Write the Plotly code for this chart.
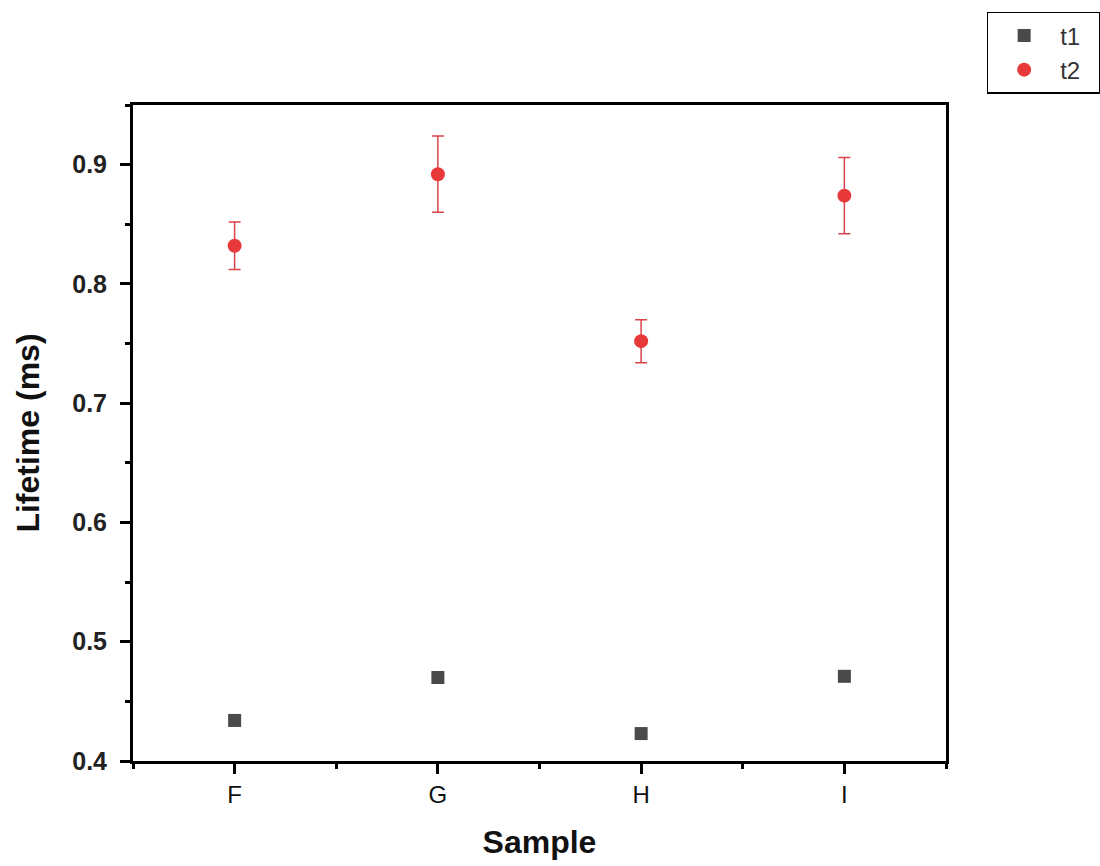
import plotly.graph_objects as go

samples = ["F", "G", "H", "I"]
t1 = [0.434, 0.470, 0.423, 0.471]
t2 = [0.832, 0.892, 0.752, 0.874]
t2_err = [0.020, 0.032, 0.018, 0.032]
y_ticks = [0.4, 0.5, 0.6, 0.7, 0.8, 0.9]

xpos = list(range(len(samples)))

fig = go.Figure()
fig.add_trace(go.Scatter(
    x=xpos, y=t1, mode="markers", name="t1\u00a0\u00a0",
    marker=dict(symbol="square", size=13, color="#4a4a4a"),
))
fig.add_trace(go.Scatter(
    x=xpos, y=t2, mode="markers", name="t2\u00a0\u00a0",
    marker=dict(symbol="circle", size=14, color="#e8393a"),
    error_y=dict(type="data", array=t2_err, visible=True, color="#d9434a", thickness=1.5, width=6),
))

axis_common = dict(
    showline=True, linecolor="black", linewidth=3, mirror=True,
    ticks="outside", tickwidth=2.5, ticklen=10, tickcolor="black",
    showgrid=False, zeroline=False,
)

fig.update_xaxes(
    **axis_common,
    range=[-0.5, 3.5], tickmode="array", tickvals=xpos, ticktext=samples,
    tickfont=dict(family="Arial, Liberation Sans", size=24, color="#111"),
    ticklabelstandoff=0,
    minor=dict(tickvals=[-0.5, 0.5, 1.5, 2.5, 3.5], ticks="outside", ticklen=5, tickwidth=2.5, tickcolor="black"),
    title=dict(text="<b>Sample</b>", font=dict(family="Arial, Liberation Sans", size=32, color="#111"), standoff=24),
)
fig.update_yaxes(
    **axis_common,
    range=[0.4, 0.95], tickmode="array", tickvals=y_ticks,
    ticktext=["<b>%.1f</b>" % v for v in y_ticks],
    tickfont=dict(family="Arial, Liberation Sans", size=25, color="#222"),
    ticklabelstandoff=8,
    minor=dict(tickvals=[0.45, 0.55, 0.65, 0.75, 0.85, 0.95], ticks="outside", ticklen=5, tickwidth=2.5, tickcolor="black"),
    title=dict(text="<b>Lifetime (ms)</b>", font=dict(family="Arial, Liberation Sans", size=32, color="#111"), standoff=24),
)

fig.update_layout(
    width=1100, height=866,
    margin=dict(l=133, r=154, t=105, b=105, autoexpand=False),
    plot_bgcolor="white", paper_bgcolor="white",
    legend=dict(
        x=1.05, y=1.142, xanchor="left", yanchor="top",
        bordercolor="black", borderwidth=1.5,
        font=dict(family="Arial, Liberation Sans", size=24, color="#333"),
        itemwidth=62, tracegroupgap=0,
    ),
    showlegend=True,
)

fig.write_html("out.html")
